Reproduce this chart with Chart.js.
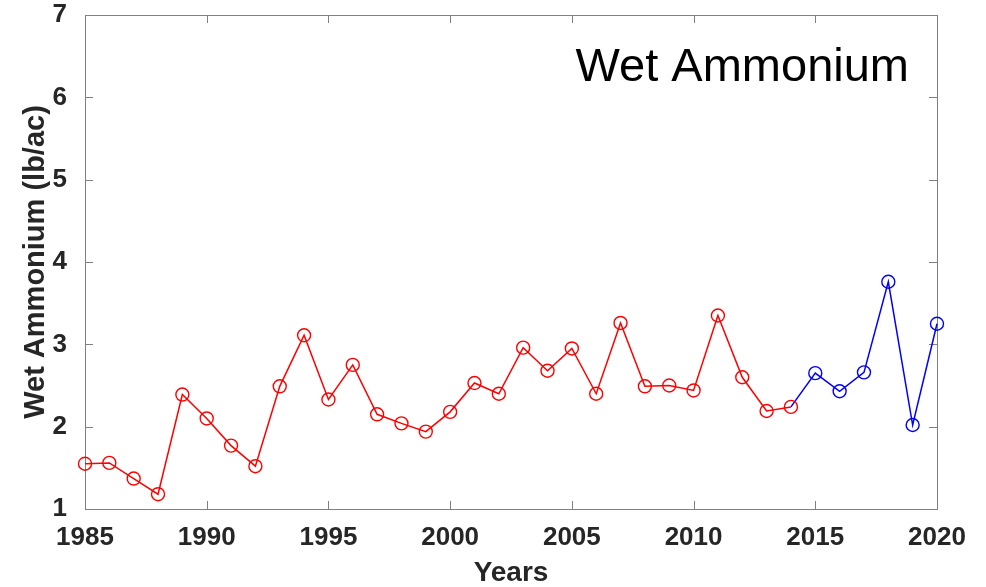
<!DOCTYPE html>
<html>
<head>
<meta charset="utf-8">
<script src="https://cdn.jsdelivr.net/npm/chart.js@4.4.1/dist/chart.umd.min.js"></script>
<style>
  html, body { margin: 0; padding: 0; background: #fff; }
  #wrap { width: 986px; height: 587px; position: relative; }
</style>
</head>
<body>
<div id="wrap"><canvas id="chart"></canvas></div>
<script>
'use strict';

// Annual wet ammonium deposition (lb/ac)
const years = [1985, 1986, 1987, 1988, 1989, 1990, 1991, 1992, 1993, 1994,
               1995, 1996, 1997, 1998, 1999, 2000, 2001, 2002, 2003, 2004,
               2005, 2006, 2007, 2008, 2009, 2010, 2011, 2012, 2013, 2014,
               2015, 2016, 2017, 2018, 2019, 2020];
const ammonium = [1.55, 1.56, 1.37, 1.18, 2.39, 2.10, 1.77, 1.52, 2.49, 3.11,
                  2.33, 2.75, 2.15, 2.04, 1.94, 2.18, 2.53, 2.40, 2.96, 2.68,
                  2.95, 2.40, 3.26, 2.49, 2.50, 2.44, 3.35, 2.60, 2.19, 2.24,
                  2.65, 2.43, 2.66, 3.76, 2.02, 3.25];
const splitYear = 2014;          // red up to here, blue after
const xTicks = [1985, 1990, 1995, 2000, 2005, 2010, 2015, 2020];
const yTicks = [1, 2, 3, 4, 5, 6, 7];

const toPoints = (ys, vs) => ys.map((y, i) => ({ x: y, y: vs[i] }));
const splitIdx = years.indexOf(splitYear);
const redPts = toPoints(years.slice(0, splitIdx + 1), ammonium.slice(0, splitIdx + 1));
const bluePts = toPoints(years.slice(splitIdx), ammonium.slice(splitIdx));

const AXIS = '#808080';
const TEXT = '#262626';

// Box around the plot with inward ticks on all four sides
const boxFrame = {
    id: 'boxFrame',
    beforeDatasetsDraw(chart) {
        const { ctx, chartArea: a, scales } = chart;
        const len = 8;
        ctx.save();
        ctx.strokeStyle = AXIS;
        ctx.lineWidth = 1;
        ctx.beginPath();
        xTicks.forEach(v => {
            const x = Math.round(scales.x.getPixelForValue(v)) + 0.5;
            ctx.moveTo(x, a.bottom); ctx.lineTo(x, a.bottom - len);
            ctx.moveTo(x, a.top); ctx.lineTo(x, a.top + len);
        });
        yTicks.forEach(v => {
            const y = Math.round(scales.y.getPixelForValue(v)) + 0.5;
            ctx.moveTo(a.left, y); ctx.lineTo(a.left + len, y);
            ctx.moveTo(a.right, y); ctx.lineTo(a.right - len, y);
        });
        ctx.stroke();
        ctx.strokeRect(Math.round(a.left) + 0.5, Math.round(a.top) + 0.5,
                       Math.round(a.right - a.left), Math.round(a.bottom - a.top));
        ctx.restore();
    }
};

// Panel label in the upper right of the plot
const panelLabel = {
    id: 'panelLabel',
    afterDraw(chart) {
        const { ctx, chartArea: a } = chart;
        ctx.save();
        ctx.font = '47px "Liberation Sans", Arial, sans-serif';
        ctx.fillStyle = '#000';
        ctx.textAlign = 'right';
        ctx.textBaseline = 'alphabetic';
        ctx.fillText('Wet Ammonium', a.right - 28, a.top + 66);
        ctx.restore();
    }
};

const tickFont = { family: '"Liberation Sans", Arial, sans-serif', size: 26, weight: 'bold' };
const titleFont = { family: '"Liberation Sans", Arial, sans-serif', size: 28, weight: 'bold', lineHeight: 1 };

new Chart(document.getElementById('chart'), {
    type: 'line',
    data: {
        datasets: [
            {
                data: redPts,
                borderColor: '#ff0000',
                borderWidth: 1.5,
                pointStyle: 'circle',
                pointRadius: 6.5,
                pointBorderWidth: 1.4,
                pointBackgroundColor: 'rgba(0,0,0,0)',
                pointBorderColor: '#ff0000',
                tension: 0,
                clip: false
            },
            {
                data: bluePts,
                borderColor: '#0000ff',
                borderWidth: 1.5,
                pointStyle: 'circle',
                pointRadius: bluePts.map((p, i) => i === 0 ? 0 : 6.5),
                pointBorderWidth: 1.4,
                pointBackgroundColor: 'rgba(0,0,0,0)',
                pointBorderColor: '#0000ff',
                tension: 0,
                clip: false
            }
        ]
    },
    options: {
        responsive: true,
        maintainAspectRatio: false,
        animation: false,
        layout: { padding: { top: 15, right: 49, left: 0, bottom: 0 } },
        plugins: { legend: { display: false }, tooltip: { enabled: false } },
        scales: {
            x: {
                type: 'linear',
                min: 1985,
                max: 2020,
                afterBuildTicks(scale) { scale.ticks = xTicks.map(v => ({ value: v })); },
                afterFit(scale) {
                    scale.height = 78;
                    scale.paddingLeft = 0;
                    scale.paddingRight = 0;
                },
                grid: { display: false },
                border: { display: false },
                ticks: {
                    font: tickFont,
                    color: TEXT,
                    padding: 5,
                    maxRotation: 0,
                    autoSkip: false,
                    callback: v => String(v)
                },
                title: {
                    display: true,
                    text: 'Years',
                    font: titleFont,
                    color: TEXT,
                    padding: { top: 0, bottom: 0 }
                }
            },
            y: {
                min: 1,
                max: 7,
                afterBuildTicks(scale) { scale.ticks = yTicks.map(v => ({ value: v })); },
                afterFit(scale) {
                    scale.width = 85;
                    scale.paddingTop = 0;
                    scale.paddingBottom = 0;
                },
                grid: { display: false },
                border: { display: false },
                ticks: {
                    font: tickFont,
                    color: TEXT,
                    padding: 10,
                    callback: v => String(v)
                },
                title: {
                    display: true,
                    text: 'Wet Ammonium (lb/ac)',
                    font: Object.assign({}, titleFont, { size: 29 }),
                    color: TEXT,
                    padding: { top: 21, bottom: 0 }
                }
            }
        }
    },
    plugins: [boxFrame, panelLabel]
});
</script>
</body>
</html>
